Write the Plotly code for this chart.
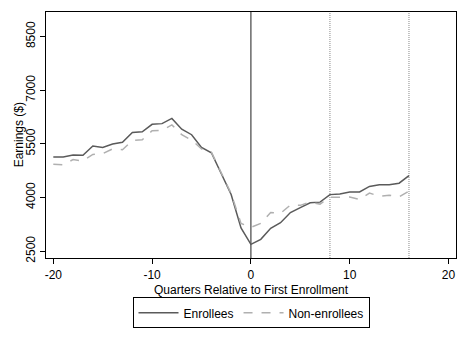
import plotly.graph_objects as go

quarters = list(range(-20, 17))

enrollees = [5130, 5135, 5190, 5180, 5440, 5400, 5495, 5545, 5815, 5835, 6045, 6065, 6210,
             5910, 5755, 5400, 5250, 4675, 4085, 3150, 2690, 2830, 3140, 3295, 3580, 3715,
             3850, 3870, 4080, 4100, 4155, 4155, 4310, 4355, 4355, 4400, 4610]
non_enrollees = [4930, 4915, 5060, 5020, 5205, 5225, 5360, 5335, 5590, 5615, 5865, 5880, 6030,
                 5755, 5605, 5360, 5270, 4690, 4110, 3275, 3165, 3275, 3580, 3560, 3790, 3780,
                 3870, 3815, 4010, 4010, 4015, 3945, 4125, 4035, 4065, 4015, 4175]

event_quarter = 0
window_quarters = [8, 16]

x_ticks = [-20, -10, 0, 10, 20]
x_labels = ["-20", "-10", "0", "10", "20"]
y_ticks = [2500, 4000, 5500, 7000, 8500]

font = dict(family="Liberation Sans, Arial, sans-serif", size=12, color="black")

fig = go.Figure()
fig.add_trace(go.Scatter(x=quarters, y=enrollees, mode="lines", name="Enrollees",
                         line=dict(color="#5a5a5a", width=1.5)))
fig.add_trace(go.Scatter(x=quarters, y=non_enrollees, mode="lines", name="Non-enrollees",
                         line=dict(color="#b0b0b0", width=1.5, dash="dash")))

fig.add_vline(x=event_quarter, line=dict(color="#444444", width=1.2), layer="below")
for q in window_quarters:
    fig.add_vline(x=q, line=dict(color="#888888", width=1, dash="1px,1px"), layer="below")

fig.add_annotation(text="Quarters Relative to First Enrollment", xref="paper", yref="paper",
                   x=0.5, y=-0.094, yanchor="top", showarrow=False, font=font)
fig.add_annotation(text="Earnings ($)", xref="paper", yref="paper", textangle=-90,
                   x=-0.065, xanchor="center", y=0.5, showarrow=False, font=font)

# the page body adds an 8px margin, so the figure is sized to fit inside it
fig.update_layout(
    width=452, height=324,
    margin=dict(l=38, r=4, t=4, b=69),
    paper_bgcolor="white", plot_bgcolor="white",
    font=font,
    showlegend=True,
    legend=dict(orientation="h", x=0.5, xanchor="center", y=-0.16, yanchor="top",
                bordercolor="black", borderwidth=1, font=font, itemwidth=40,
                tracegroupgap=0),
)
fig.update_xaxes(range=[-20.74, 20.76], tickvals=x_ticks, ticktext=x_labels,
                 showgrid=False, zeroline=False, automargin=False,
                 showline=True, linecolor="black", linewidth=1, mirror=True,
                 ticks="outside", ticklen=5, tickcolor="black", ticklabelstandoff=1)
fig.update_yaxes(range=[2308, 9186], tickvals=y_ticks, showgrid=False, zeroline=False,
                 automargin=False,
                 showline=True, linecolor="black", linewidth=1, mirror=True,
                 ticks="outside", ticklen=5, tickcolor="black", tickangle=-90)

fig.write_html("out.html")
